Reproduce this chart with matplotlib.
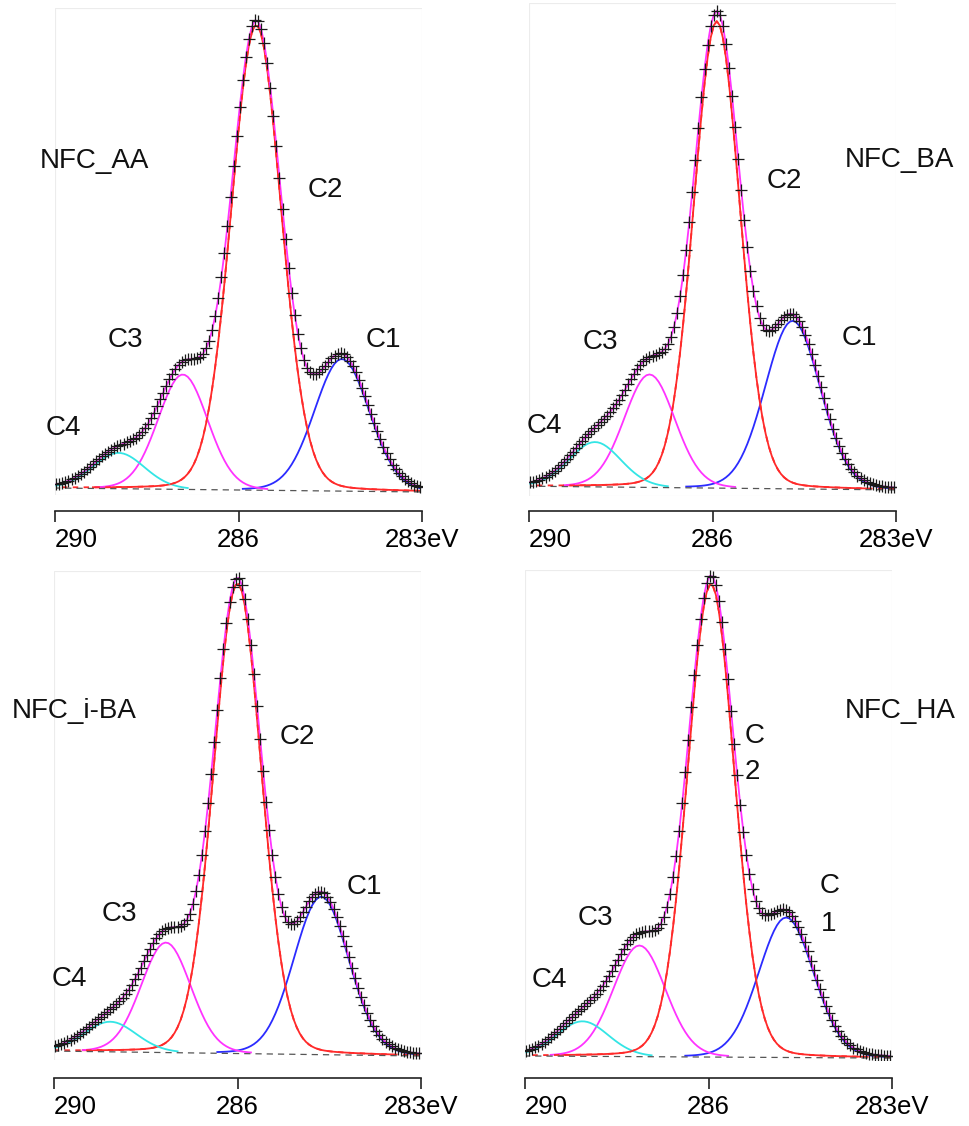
import numpy as np
import matplotlib
matplotlib.use("Agg")
import matplotlib.pyplot as plt

plt.rcParams['font.family'] = ['Liberation Sans', 'DejaVu Sans']

W, H = 969, 1126

samples = ['NFC_AA', 'NFC_BA', 'NFC_i-BA', 'NFC_HA']
peak_names = ['C1', 'C2', 'C3', 'C4']
peak_colors = ['#2b2bff', '#ff2a2a', '#ff33ff', '#33e5e5']

# peak positions (eV), heights (C2 = 100) and FWHM (eV) of the fitted components
pos_AA = [284.31, 285.71, 286.91, 287.96]
pos_BA = [284.69, 285.93, 287.03, 287.92]
pos_iBA = [284.63, 286.00, 287.17, 288.08]
pos_HA = [284.73, 285.96, 287.13, 288.06]

height_AA = [28.4, 100, 24.7, 7.7]
height_BA = [36.0, 100, 24.2, 9.6]
height_iBA = [33.6, 100, 23.4, 6.4]
height_HA = [29.6, 100, 23.5, 7.4]

fwhm_AA = [1.06, 0.96, 0.96, 1.0]
fwhm_BA = [1.06, 0.89, 0.98, 1.0]
fwhm_iBA = [1.06, 0.92, 0.96, 1.0]
fwhm_HA = [1.06, 0.90, 1.01, 1.0]
lorentz_frac = 0.08

# linear background, value at 289 eV and at 283 eV
background_AA = [1.5, 0.65]
background_BA = [2.1, 1.3]
background_iBA = [1.9, 0.85]
background_HA = [0.85, 0.4]

energy = np.arange(283.03, 288.99, 0.05)

tick_pos = [289, 286, 283]
tick_text = ['290', '286', '283eV']

positions = [pos_AA, pos_BA, pos_iBA, pos_HA]
heights = [height_AA, height_BA, height_iBA, height_HA]
widths = [fwhm_AA, fwhm_BA, fwhm_iBA, fwhm_HA]
backgrounds = [background_AA, background_BA, background_iBA, background_HA]

# layout in pixels: left, top, right, bottom, axis offset, y top
boxes = [(55, 8, 422, 495, 16, 104.7),
         (529, 3, 896, 496, 15, 105.6),
         (54, 571, 421, 1060, 18, 104.0),
         (525, 570, 892, 1060, 18, 103.6)]

# text labels: (text, left x px, centre y px)
labels = [
    [('NFC_AA', 40, 161), ('C2', 308, 190), ('C3', 108, 340), ('C1', 366, 340), ('C4', 46, 428)],
    [('NFC_BA', 845, 160), ('C2', 767, 181), ('C3', 583, 342), ('C1', 842, 338), ('C4', 527, 426)],
    [('NFC_i-BA', 12, 711), ('C2', 280, 737), ('C3', 102, 914), ('C1', 347, 887), ('C4', 52, 979)],
    [('NFC_HA', 845, 711), ('C', 745, 736), ('2', 745, 772), ('C3', 578, 918),
     ('C', 820, 886), ('1', 821, 924), ('C4', 532, 980)],
]


def pseudo_voigt(x, c, h, w, eta):
    g = np.exp(-4 * np.log(2) * ((x - c) / w) ** 2)
    l = 1.0 / (1.0 + 4 * ((x - c) / w) ** 2)
    return h * (eta * l + (1 - eta) * g)


fig = plt.figure(figsize=(W / 100, H / 100), dpi=100)

for i in range(4):
    l, t, r, b, off, ytop = boxes[i]
    ax = fig.add_axes([l / W, 1 - b / H, (r - l) / W, (b - t) / H])
    bg = backgrounds[i][1] + (backgrounds[i][0] - backgrounds[i][1]) * (energy - 283) / 6
    comps = [pseudo_voigt(energy, positions[i][k], heights[i][k], widths[i][k], lorentz_frac)
             for k in range(4)]
    env = bg + sum(comps)

    for k in range(4):
        line = np.where(comps[k] > 0.25, bg + comps[k], np.nan)
        ax.plot(energy, line, color=peak_colors[k], lw=1.3, zorder=2)
    ax.plot(energy, env, color='#ff33ff', lw=1.3, zorder=3)
    ax.plot(energy, bg + comps[1], color='#ff2a2a', lw=1.3, dashes=(3, 3), zorder=4)
    ax.plot(energy, bg, color='#555555', lw=0.9, dashes=(5, 4), zorder=5)
    ax.plot(energy, env, '+', color='#1a1a1a', ms=8, mew=0.9, zorder=6)

    ax.set_xlim(289, 283)
    ax.set_ylim(0, ytop)
    for s in ['top', 'left', 'right']:
        ax.spines[s].set_visible(False)
    ax.spines['bottom'].set_position(('outward', off * 0.72))
    ax.spines['bottom'].set_color('#222222')
    ax.spines['bottom'].set_linewidth(1.2)
    ax.add_patch(plt.Rectangle((0, 0), 1, 1, transform=ax.transAxes, fill=False,
                               edgecolor='#ececec', lw=0.8, zorder=0))
    ax.set_yticks([])
    ax.set_xticks(tick_pos)
    ax.set_xticklabels(tick_text, fontsize=18.5)
    ax.tick_params(axis='x', direction='out', length=8, width=1.2, color='#222222', pad=4.5)
    ax.get_xticklabels()[0].set_ha('left')
    ax.get_xticklabels()[0].set_x(289.06)

    for txt, x, y in labels[i]:
        fig.text(x / W, 1 - y / H, txt, fontsize=20, ha='left', va='center', color='#111111')

fig.savefig('out.png', dpi=100)
